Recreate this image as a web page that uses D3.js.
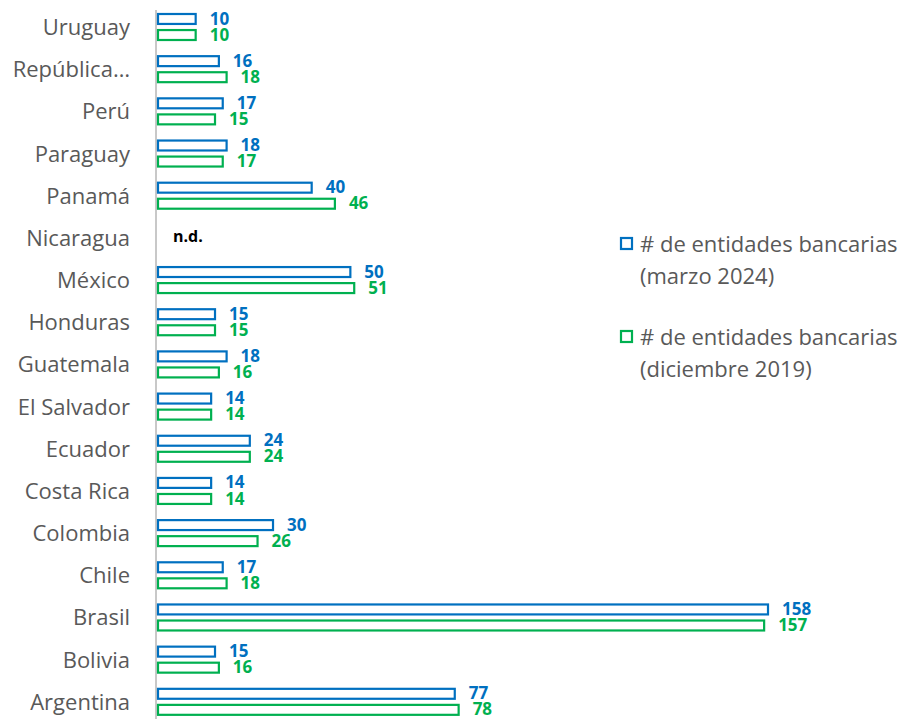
<!DOCTYPE html>
<html>
<head>
<meta charset="utf-8">
<script src="https://cdn.jsdelivr.net/npm/d3@7"></script>
<style>
body { margin: 0; background: #fff; }
</style>
</head>
<body>
<div id="d3"></div>
<script>
var countries = ["Uruguay", "República…", "Perú", "Paraguay", "Panamá", "Nicaragua", "México", "Honduras",
    "Guatemala", "El Salvador", "Ecuador", "Costa Rica", "Colombia", "Chile", "Brasil", "Bolivia", "Argentina"];
var marzo2024 = [10, 16, 17, 18, 40, null, 50, 15, 18, 14, 24, 14, 30, 17, 158, 15, 77];
var diciembre2019 = [10, 18, 15, 17, 46, null, 51, 15, 16, 14, 24, 14, 26, 18, 157, 16, 78];
var seriesNames = ["# de entidades bancarias (marzo 2024)", "# de entidades bancarias (diciembre 2019)"];
var seriesColors = ["#0070C0", "#00B050"];

var width = 911, height = 719;
var font = "'Open Sans', 'Liberation Sans', sans-serif";

var svg = d3.select("#d3").append("svg").attr("width", width).attr("height", height);

var x = d3.scaleLinear().domain([0, 158]).range([157, 768]);
var y = d3.scaleBand().domain(countries).range([6, 723]);
var ySub = d3.scaleBand().domain([0, 1]).range([8, 34]).paddingInner(0.38);

// axis line
svg.append("line").attr("x1", 156).attr("x2", 156).attr("y1", 10).attr("y2", height)
    .attr("stroke", "#c8c8c8").attr("stroke-width", 2);

// category labels
svg.selectAll("text.cat").data(countries).enter().append("text")
    .attr("class", "cat")
    .attr("x", 130)
    .attr("y", function(d) { return y(d) + y.bandwidth() / 2 + 2; })
    .attr("text-anchor", "end")
    .attr("dominant-baseline", "middle")
    .attr("font-family", font)
    .attr("font-size", 22)
    .attr("fill", "#595959")
    .text(function(d) { return d; });

var series = [marzo2024, diciembre2019];
series.forEach(function(values, s) {
    var rows = countries.map(function(c, i) { return { c: c, v: values[i] }; })
        .filter(function(d) { return d.v !== null; });
    var g = svg.append("g");
    g.selectAll("rect").data(rows).enter().append("rect")
        .attr("x", x(0) + 1)
        .attr("y", function(d) { return y(d.c) + ySub(s); })
        .attr("width", function(d) { return x(d.v) - x(0) - 1; })
        .attr("height", ySub.bandwidth())
        .attr("fill", "#fff")
        .attr("stroke", seriesColors[s])
        .attr("stroke-width", 2.2);
    g.selectAll("text").data(rows).enter().append("text")
        .attr("x", function(d) { return x(d.v) + 14; })
        .attr("y", function(d) { return y(d.c) + ySub(s) + ySub.bandwidth() / 2 + 1; })
        .attr("dominant-baseline", "middle")
        .attr("font-family", font)
        .attr("font-size", 17)
        .attr("font-weight", "bold")
        .attr("fill", seriesColors[s])
        .text(function(d) { return d.v; });
});

// n.d. label for missing data
countries.forEach(function(c, i) {
    if (marzo2024[i] === null && diciembre2019[i] === null) {
        svg.append("text")
            .attr("x", x(0) + 16)
            .attr("y", y(c) + y.bandwidth() / 2)
            .attr("dominant-baseline", "middle")
            .attr("font-family", font)
            .attr("font-size", 16)
            .attr("font-weight", "bold")
            .attr("fill", "#000")
            .text("n.d.");
    }
});

// legend
var legendTop = [237, 330];
seriesNames.forEach(function(name, s) {
    var lg = svg.append("g").attr("transform", "translate(620," + legendTop[s] + ")");
    lg.append("rect").attr("x", 1).attr("y", 1).attr("width", 11).attr("height", 11)
        .attr("fill", "#fff").attr("stroke", seriesColors[s]).attr("stroke-width", 2.2);
    var idx = name.indexOf(" (");
    var lines = [name.slice(0, idx), name.slice(idx + 1)];
    lg.selectAll("text").data(lines).enter().append("text")
        .attr("x", 20)
        .attr("y", function(d, i) { return 9 + i * 32; })
        .attr("dominant-baseline", "middle")
        .attr("font-family", font)
        .attr("font-size", 22)
        .attr("fill", "#595959")
        .text(function(d) { return d; });
});
</script>
</body>
</html>
